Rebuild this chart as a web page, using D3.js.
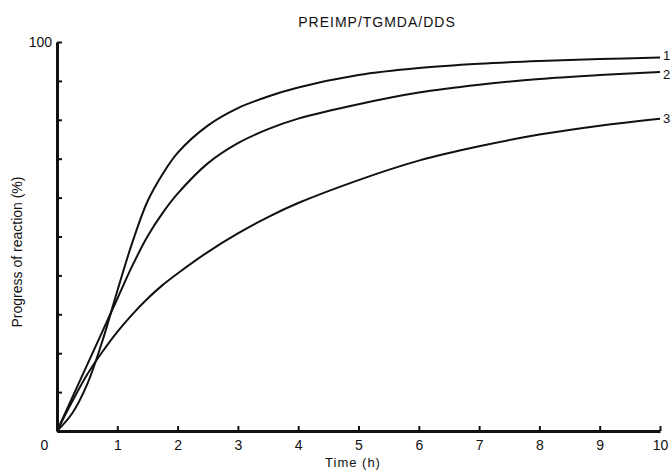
<!DOCTYPE html>
<html>
<head>
<meta charset="utf-8">
<script src="https://cdn.jsdelivr.net/npm/d3@7.9.0/dist/d3.min.js"></script>
<style>
  body { margin: 0; background: #fff; }
  text { font-family: "Liberation Sans", Arial, sans-serif; fill: #111; }
</style>
</head>
<body>
<svg width="671" height="471"></svg>
<script>
// data
const time = [0, 0.25, 0.5, 0.75, 1, 1.25, 1.5, 1.75, 2, 2.5, 3, 3.5, 4, 5, 6, 7, 8, 9, 10];
const curve1 = [0, 4.5, 12, 23, 36, 48.5, 59, 66, 71.5, 78.5, 83, 86, 88.3, 91.5, 93.3, 94.4, 95.1, 95.6, 96];
const curve2 = [0, 8.5, 17, 25.5, 34, 42.5, 50, 56, 61, 68.8, 74, 77.6, 80.3, 84, 87, 89, 90.5, 91.5, 92.3];
const curve3 = [0, 7.5, 14.5, 20.3, 25.5, 30, 34, 37.5, 40.5, 46, 50.8, 55, 58.6, 64.5, 69.5, 73.2, 76.2, 78.5, 80.3];
const seriesLabels = ['1', '2', '3'];
const labelShift = [-2, 2, 0];
const xTicks = [0, 1, 2, 3, 4, 5, 6, 7, 8, 9, 10];
const yTicks = [0, 10, 20, 30, 40, 50, 60, 70, 80, 90, 100];

const svg = d3.select('svg');

let x = d3.scaleLinear().domain([0, 10]).range([57, 660]);
let y = d3.scaleLinear().domain([0, 100]).range([431, 42]);

// title
svg.append('text')
  .attr('x', 377).attr('y', 27)
  .attr('text-anchor', 'middle')
  .style('font-size', '14px')
  .style('letter-spacing', '1px')
  .text('PREIMP/TGMDA/DDS');

// y axis, ticks pointing inward, only 100 labelled
let yAxis = svg.append('g')
  .attr('transform', 'translate(57,0)')
  .call(d3.axisLeft(y).tickValues(yTicks).tickSizeInner(-5).tickSizeOuter(0)
    .tickFormat((d) => d === 100 ? '100' : ''));
yAxis.select('.domain').attr('stroke-width', 3).attr('stroke', '#111');
yAxis.selectAll('.tick line').attr('stroke-width', 2).attr('stroke', '#111');
yAxis.selectAll('.tick text')
  .attr('x', -5).attr('dy', '0.3em')
  .style('font-size', '14px')
  .style('font-family', '"Liberation Sans", Arial, sans-serif');

// x axis
let xAxis = svg.append('g')
  .attr('transform', 'translate(0,431)')
  .call(d3.axisBottom(x).tickValues(xTicks).tickSizeInner(-5).tickSizeOuter(0)
    .tickFormat((d) => String(d)));
xAxis.select('.domain').attr('stroke-width', 3).attr('stroke', '#111');
xAxis.selectAll('.tick line').attr('stroke-width', 2).attr('stroke', '#111')
  .attr('opacity', (d) => d === 0 ? 0 : 1);
xAxis.selectAll('.tick text')
  .attr('y', 9).attr('dy', '0.71em')
  .attr('dx', (d) => d === 0 ? -13 : 0)
  .style('font-size', '14px')
  .style('font-family', '"Liberation Sans", Arial, sans-serif');

// axis titles
svg.append('text')
  .attr('x', 353).attr('y', 467)
  .attr('text-anchor', 'middle')
  .style('font-size', '13px')
  .style('letter-spacing', '1px')
  .text('Time (h)');

svg.append('text')
  .attr('transform', 'translate(22,252) rotate(-90)')
  .attr('text-anchor', 'middle')
  .style('font-size', '14px')
  .text('Progress of reaction (%)');

// curves
let line = d3.line()
  .x((d) => x(d[0]))
  .y((d) => y(d[1]))
  .curve(d3.curveCatmullRom.alpha(0.5));

[curve1, curve2, curve3].forEach((vals, i) => {
  let pts = time.map((t, j) => [t, vals[j]]);
  svg.append('path')
    .attr('d', line(pts))
    .attr('fill', 'none')
    .attr('stroke', '#111')
    .attr('stroke-width', 2);
  svg.append('text')
    .attr('x', x(10) + 3)
    .attr('y', y(vals[vals.length - 1]) + labelShift[i])
    .attr('dy', '0.35em')
    .style('font-size', '13px')
    .text(seriesLabels[i]);
});
</script>
</body>
</html>
